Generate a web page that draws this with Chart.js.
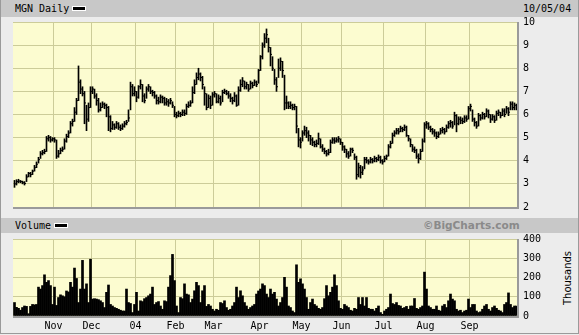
<!DOCTYPE html>
<html>
<head>
<meta charset="utf-8">
<script src="https://cdn.jsdelivr.net/npm/chart.js@4.4.1/dist/chart.umd.min.js"></script>
<style>
  html, body { margin: 0; padding: 0; background: #ececec; }
  #wrap { position: relative; width: 579px; height: 335px; overflow: hidden; background: #ececec; font-family: "DejaVu Sans Mono", monospace; font-size: 10px; color: #000; }
  #wrap canvas { position: absolute; left: 0; top: 0; }
  .bar { position: absolute; left: 0; width: 579px; background: #c8c8c8; }
  .lbl { position: absolute; white-space: nowrap; line-height: 12px; }
  .swatch { display: inline-block; width: 12px; height: 3px; background: #000; border: 1px solid #fff; vertical-align: middle; margin-left: 3px; position: relative; top: -1px; }
  #copy { position: absolute; left: 423px; top: 219px; font: bold 10.5px "DejaVu Sans", sans-serif; color: #8a8a8a; }
  #thou { position: absolute; left: 567px; top: 278px; transform: translate(-50%, -50%) rotate(-90deg); white-space: nowrap; font: 10px "DejaVu Sans", sans-serif; }
  .frame { position: absolute; border: 1px solid #9a9a9a; pointer-events: none; }
</style>
</head>
<body>
<div id="wrap">
  <div class="bar" style="top:0;height:17px"></div>
  <div class="lbl" style="left:15px;top:3px">MGN Daily<span class="swatch"></span></div>
  <div class="lbl" style="left:523px;top:3px">10/05/04</div>
  <div class="bar" style="top:218px;height:15px"></div>
  <div class="lbl" style="left:15px;top:220px">Volume<span class="swatch"></span></div>
  <div id="copy">©BigCharts.com</div>
  <div id="thou">Thousands</div>
  <canvas id="priceChart" width="579" height="335"></canvas>
  <canvas id="volChart" width="579" height="335"></canvas>
  <div class="frame" style="left:0;top:0;width:577px;height:333px;border-top:none"></div>
</div>
<script>
// ==== DATA (MGN daily, Oct 2003 - Oct 2004, one entry per trading day) ====
const monthStarts = [20, 39, 61, 81, 100, 123, 144, 164, 185, 206, 228];
const monthLabels = ['Nov', 'Dec', '04', 'Feb', 'Mar', 'Apr', 'May', 'Jun', 'Jul', 'Aug', 'Sep'];

const highs = [
  3.15,3.18,3.20,3.15,3.12,3.10,3.40,3.50,3.50,3.60,
  3.80,3.95,4.15,4.40,4.45,4.50,5.05,5.10,5.05,5.00,
  5.00,4.90,4.45,4.55,4.60,4.95,5.15,5.30,5.70,5.80,
  6.30,6.70,8.10,7.50,7.20,7.00,6.40,6.50,7.20,7.20,
  7.10,6.90,6.70,6.50,6.55,6.50,6.45,6.35,5.95,5.70,
  5.60,5.70,5.65,5.55,5.60,5.70,5.75,6.20,7.40,7.30,
  7.20,7.00,7.25,7.50,7.30,6.90,7.20,7.30,7.20,7.05,
  7.00,6.85,6.75,6.85,6.80,6.75,6.70,6.65,6.70,6.55,
  6.35,6.10,6.15,6.10,6.20,6.20,6.45,6.55,6.60,7.20,
  7.50,7.80,8.00,7.80,7.65,7.20,6.90,6.85,6.80,6.95,
  7.00,6.90,6.85,6.80,7.05,7.10,7.05,7.00,6.90,6.75,
  6.95,6.85,7.20,7.50,7.60,7.45,7.40,7.30,7.45,7.40,
  7.50,7.45,7.95,8.55,9.10,9.50,9.70,9.30,8.90,8.50,
  7.95,7.60,8.40,8.45,8.30,7.70,6.80,6.55,6.55,6.45,
  6.45,6.35,5.40,5.00,5.30,5.50,5.45,5.30,5.10,5.00,
  4.85,4.90,5.20,4.95,4.70,4.55,4.45,4.50,4.90,5.00,
  5.00,5.00,5.05,4.95,4.80,4.65,4.50,4.40,4.55,4.55,
  4.30,4.20,3.90,3.80,3.75,4.15,4.15,4.05,4.15,4.10,
  4.20,4.15,4.25,4.20,4.05,4.20,4.25,4.70,4.85,5.20,
  5.30,5.40,5.40,5.50,5.45,5.55,5.50,5.10,4.95,4.70,
  4.60,4.50,4.30,4.50,4.95,5.65,5.70,5.65,5.50,5.40,
  5.35,5.25,5.25,5.40,5.45,5.40,5.55,5.70,5.75,5.70,
  6.10,6.00,5.90,5.90,5.85,5.95,5.95,6.35,6.45,6.20,
  5.85,5.70,6.05,6.00,6.10,6.05,6.25,6.20,6.00,6.00,
  5.95,6.15,6.20,6.10,6.25,6.25,6.35,6.30,6.55,6.55,
  6.50,6.45
];
const lows = [
  2.85,2.95,3.05,3.05,3.00,2.95,3.10,3.30,3.30,3.40,
  3.55,3.70,3.90,4.10,4.25,4.30,4.40,4.85,4.80,4.85,
  4.80,4.10,4.15,4.30,4.40,4.50,4.80,5.00,5.20,5.50,
  5.70,6.00,6.60,6.90,6.80,5.60,5.30,5.70,6.30,6.90,
  6.70,6.40,6.10,6.15,6.30,6.25,5.90,5.30,5.25,5.35,
  5.35,5.40,5.35,5.30,5.35,5.45,5.55,5.70,6.20,6.80,
  6.80,6.55,6.70,7.10,6.55,6.50,6.70,7.00,6.90,6.80,
  6.70,6.45,6.45,6.50,6.50,6.40,6.40,6.35,6.45,6.30,
  5.90,5.85,5.90,5.90,5.95,5.95,6.00,6.30,6.35,6.50,
  6.90,7.30,7.50,7.45,7.10,6.40,6.20,6.30,6.25,6.40,
  6.75,6.50,6.50,6.40,6.55,6.90,6.85,6.70,6.55,6.45,
  6.55,6.35,6.40,7.00,7.20,7.10,7.10,7.00,7.10,7.15,
  7.25,7.20,7.35,7.90,8.40,8.90,9.10,8.70,8.10,7.90,
  7.30,7.00,7.60,7.90,7.60,6.20,6.25,6.25,6.25,6.20,
  6.20,5.20,4.60,4.55,4.85,5.10,5.00,4.85,4.70,4.65,
  4.60,4.60,4.70,4.55,4.40,4.30,4.20,4.25,4.35,4.75,
  4.75,4.80,4.80,4.70,4.45,4.35,4.15,4.10,4.20,4.35,
  4.05,3.20,3.30,3.25,3.40,3.65,3.90,3.85,3.90,3.90,
  3.95,3.95,4.00,3.90,3.85,3.95,4.05,4.20,4.55,4.75,
  5.05,5.15,5.15,5.25,5.25,5.30,5.05,4.85,4.60,4.40,
  4.35,4.10,3.90,4.05,4.40,4.80,5.40,5.35,5.25,5.15,
  5.05,4.95,5.00,5.15,5.20,5.15,5.25,5.40,5.45,5.40,
  5.55,5.25,5.55,5.60,5.60,5.65,5.70,5.80,6.15,5.70,
  5.50,5.40,5.50,5.75,5.80,5.80,5.90,5.85,5.65,5.75,
  5.65,5.75,5.95,5.85,5.95,5.90,6.05,5.95,6.20,6.20,
  6.20,6.20
];
const closes = [
  3.00,3.10,3.12,3.10,3.05,3.02,3.30,3.45,3.40,3.55,
  3.70,3.85,4.05,4.30,4.35,4.40,4.95,5.00,4.90,4.95,
  4.90,4.20,4.30,4.45,4.50,4.85,5.05,5.20,5.60,5.70,
  6.10,6.60,7.40,7.10,6.90,6.50,5.80,6.30,7.00,7.10,
  6.80,6.60,6.20,6.30,6.45,6.40,6.30,5.90,5.40,5.55,
  5.45,5.60,5.45,5.40,5.50,5.60,5.65,5.85,7.20,6.90,
  7.00,6.75,7.20,7.30,6.80,6.60,7.10,7.20,7.00,6.95,
  6.80,6.60,6.55,6.75,6.70,6.50,6.55,6.50,6.60,6.40,
  6.00,5.95,6.05,6.00,6.10,6.05,6.35,6.40,6.50,6.95,
  7.30,7.60,7.75,7.60,7.30,6.90,6.30,6.70,6.40,6.85,
  6.90,6.55,6.70,6.50,6.95,7.00,6.90,6.80,6.70,6.60,
  6.80,6.40,7.05,7.30,7.45,7.20,7.30,7.10,7.35,7.25,
  7.40,7.30,7.90,8.50,9.00,9.30,9.45,8.90,8.60,8.00,
  7.50,7.20,8.00,8.30,7.90,6.50,6.50,6.35,6.40,6.30,
  6.35,5.50,4.90,4.80,5.20,5.30,5.20,5.10,4.90,4.80,
  4.70,4.75,4.95,4.60,4.50,4.40,4.30,4.35,4.80,4.90,
  4.85,4.90,4.95,4.80,4.60,4.50,4.30,4.20,4.50,4.45,
  4.15,3.40,3.70,3.50,3.60,4.05,4.00,3.95,4.05,4.00,
  4.10,4.05,4.15,4.00,3.95,4.10,4.20,4.60,4.75,5.10,
  5.20,5.30,5.25,5.40,5.35,5.45,5.10,4.95,4.70,4.50,
  4.45,4.20,4.10,4.40,4.85,5.55,5.60,5.45,5.35,5.25,
  5.20,5.05,5.15,5.30,5.35,5.25,5.45,5.60,5.65,5.50,
  5.95,5.60,5.80,5.75,5.70,5.85,5.80,6.25,6.35,5.80,
  5.65,5.50,5.95,5.85,6.00,5.90,6.15,6.00,5.80,5.90,
  5.75,6.05,6.10,5.95,6.15,6.00,6.25,6.10,6.45,6.30,
  6.40,6.35
];
// volume in thousands of shares
const volumes = [
  70,45,40,30,44,52,50,12,50,60,
  58,60,150,140,158,214,175,184,158,60,
  150,55,96,110,105,100,130,125,175,150,
  249,195,70,140,289,140,167,70,295,88,
  90,88,85,79,70,44,123,161,60,52,
  44,40,35,30,26,26,140,70,65,18,
  60,123,26,79,75,90,96,105,114,150,
  60,70,75,52,35,79,75,150,210,320,
  184,52,18,96,90,167,114,110,70,88,
  131,175,158,70,131,158,50,60,52,35,
  26,35,30,70,65,79,44,30,35,52,
  70,150,96,131,105,70,52,35,44,52,
  60,114,130,140,167,158,114,96,140,114,
  123,88,52,70,96,201,150,52,44,26,
  18,266,175,193,167,140,96,35,70,88,
  60,52,40,35,44,90,158,105,123,150,
  214,158,79,40,35,60,52,44,30,26,
  40,35,96,60,96,52,96,40,35,35,
  26,40,52,18,9,26,35,44,114,65,
  60,70,55,52,40,44,50,35,52,52,
  91,40,35,44,52,228,140,52,44,35,
  35,52,30,26,52,60,44,79,114,88,
  79,35,26,30,18,26,30,88,44,60,
  60,26,18,22,35,52,60,35,26,44,
  52,40,30,26,18,60,70,120,60,44,
  52,52
];
const priceTicks = { min: 2, max: 10, step: 1 };
const volTicks = { min: 0, max: 400, step: 100 };

// ==== STYLE ====
const plotBg = '#fcfcd0';
const gridColor = '#cccc99';
const monoFont = { family: 'DejaVu Sans Mono', size: 10 };

const panelPlugin = {
  id: 'panel',
  beforeDraw(chart) {
    const a = chart.chartArea, c = chart.ctx;
    c.save();
    c.fillStyle = plotBg;
    c.fillRect(a.left, a.top, a.right - a.left, a.bottom - a.top);
    c.restore();
  },
  afterDraw(chart) {
    const a = chart.chartArea, c = chart.ctx;
    c.save();
    c.strokeStyle = '#9a9a9a';
    c.lineWidth = 2;
    c.beginPath();
    c.moveTo(a.right + 1, a.top);
    c.lineTo(a.right + 1, a.bottom + 1);
    c.lineTo(a.left, a.bottom + 1);
    c.stroke();
    c.restore();
  }
};

// x runs over trading-day index; the quarter-day shift puts each day on a pixel centre
function xScale(showLabels) {
  return {
    type: 'linear',
    min: -0.75,
    max: closes.length - 0.75,
    offset: false,
    afterBuildTicks: s => { s.ticks = monthStarts.map(v => ({ value: v - 0.5 })); },
    afterFit: s => { s.height = showLabels ? 18 : 0; },
    grid: { color: gridColor, drawTicks: false, offset: false },
    border: { display: false },
    ticks: {
      display: showLabels,
      autoSkip: false,
      maxRotation: 0,
      padding: 4,
      color: '#000',
      font: monoFont,
      callback: v => monthLabels[monthStarts.indexOf(v + 0.5)]
    }
  };
}

function yScale(t) {
  return {
    position: 'right',
    min: t.min,
    max: t.max,
    afterFit: s => { s.width = 62; },
    grid: { color: gridColor, drawTicks: false },
    border: { display: false },
    ticks: { stepSize: t.step, padding: 6, color: '#000', font: monoFont }
  };
}

Chart.defaults.animation = false;

// ==== PRICE CHART ====
new Chart(document.getElementById('priceChart'), {
  type: 'bar',
  data: {
    datasets: [{
      type: 'bar',
      data: highs.map((h, i) => ({ x: i, y: [lows[i], h] })),
      backgroundColor: '#000',
      borderWidth: 0,
      barThickness: 1
    }, {
      type: 'line',
      data: closes.map((v, i) => ({ x: i, y: v })),
      showLine: false,
      pointStyle: 'dash',
      pointRadius: 1.5,
      pointBorderWidth: 1,
      pointBorderColor: '#000',
      pointBackgroundColor: '#000'
    }]
  },
  options: {
    responsive: false,
    devicePixelRatio: 1,
    events: [],
    layout: { padding: { left: 13, top: 22, right: 0, bottom: 128 } },
    plugins: { legend: { display: false }, tooltip: { enabled: false } },
    scales: { x: xScale(false), y: yScale(priceTicks) }
  },
  plugins: [panelPlugin]
});

// ==== VOLUME CHART ====
new Chart(document.getElementById('volChart'), {
  type: 'bar',
  data: {
    datasets: [{
      data: volumes.map((v, i) => ({ x: i, y: v })),
      backgroundColor: '#000',
      borderWidth: 0,
      barPercentage: 1,
      categoryPercentage: 1
    }]
  },
  options: {
    responsive: false,
    devicePixelRatio: 1,
    events: [],
    layout: { padding: { left: 13, top: 239, right: 0, bottom: 1 } },
    plugins: { legend: { display: false }, tooltip: { enabled: false } },
    scales: { x: xScale(true), y: yScale(volTicks) }
  },
  plugins: [panelPlugin]
});
</script>
</body>
</html>
